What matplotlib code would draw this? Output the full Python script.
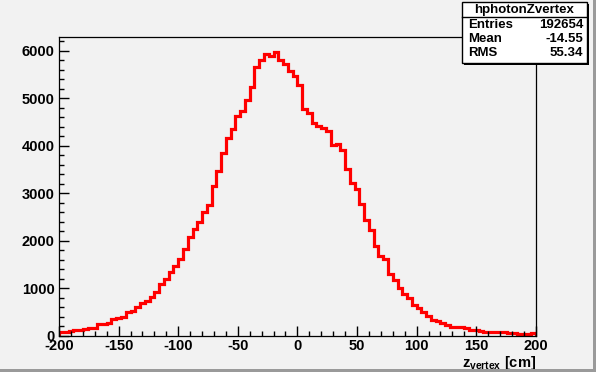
import numpy as np
import matplotlib
matplotlib.use('Agg')
import matplotlib.pyplot as plt
from matplotlib.patches import Rectangle
from matplotlib.lines import Line2D

# histogram contents: 100 bins of 4 cm between -200 and 200
edges = np.linspace(-200, 200, 101)
counts = [65, 85, 95, 110, 112, 137, 160, 168, 235, 240,
          270, 340, 365, 389, 490, 518, 593, 677, 733, 817,
          912, 1080, 1186, 1333, 1455, 1604, 1814, 2070, 2235, 2382,
          2610, 2760, 3147, 3456, 3835, 4165, 4354, 4614, 4733, 4951,
          5245, 5650, 5814, 5926, 5884, 5975, 5800, 5716, 5568, 5463,
          5274, 4762, 4691, 4467, 4411, 4362, 4312, 4011, 4039, 3910,
          3500, 3204, 3090, 2770, 2432, 2221, 1878, 1685, 1607, 1288,
          1168, 1000, 874, 790, 642, 572, 488, 414, 320, 298,
          260, 220, 183, 172, 172, 151, 115, 109, 90, 81,
          74, 74, 72, 70, 60, 60, 35, 35, 35, 60]

hist_name = 'hphotonZvertex'
stat_labels = ['Entries', 'Mean', 'RMS']
stat_values = ['192654', '-14.55', '55.34']

plt.rcParams['font.family'] = 'Liberation Sans'
plt.rcParams['font.weight'] = 'bold'
plt.rcParams['axes.unicode_minus'] = False
plt.rcParams['mathtext.fontset'] = 'custom'
plt.rcParams['mathtext.rm'] = 'Liberation Sans:bold'
plt.rcParams['mathtext.it'] = 'Liberation Sans:bold'
plt.rcParams['mathtext.bf'] = 'Liberation Sans:bold'

bg = '#f2f2f2'
fig = plt.figure(figsize=(5.96, 3.72), dpi=100, facecolor=bg)
ax = fig.add_axes([0.099, 0.098, 0.800, 0.802], facecolor=bg)

ax.stairs(counts, edges, color='#ff0000', linewidth=2.3)

ax.set_xlim(-200, 200)
ax.set_ylim(0, 6284)
ax.set_xticks(np.arange(-200, 201, 50))
ax.set_xticks(np.arange(-200, 201, 10), minor=True)
ax.set_yticks(np.arange(0, 6001, 1000))
ax.set_yticks(np.arange(0, 6201, 200), minor=True)
ax.tick_params(which='both', direction='in', top=False, right=False,
               labelsize=10.5, width=1, color='black')
ax.tick_params(which='major', length=7)
ax.tick_params(which='minor', length=3.5)
ax.tick_params(axis='x', pad=2.5)
ax.tick_params(axis='y', pad=3)
for lab in ax.get_xticklabels() + ax.get_yticklabels():
    lab.set_fontweight('bold')
for s in ax.spines.values():
    s.set_linewidth(0.9)

fig.text(536 / 596, 1 - 362.5 / 372, r'$\mathrm{z}_{\mathrm{vertex}}$ [cm]',
         ha='right', va='center', fontsize=10.5, fontweight='bold')

# stats box
bx0, bx1 = 462 / 596, 587 / 596
by0, by1 = 1 - 62.5 / 372, 1 - 1.5 / 372
fig.patches.append(Rectangle((bx0 + 2 / 596, by0 - 2 / 372), bx1 - bx0, by1 - by0,
                             transform=fig.transFigure, facecolor='black',
                             edgecolor='none', zorder=5))
fig.patches.append(Rectangle((bx0, by0), bx1 - bx0, by1 - by0,
                             transform=fig.transFigure, facecolor='white',
                             edgecolor='black', linewidth=1, zorder=6))
fig.lines.append(Line2D([bx0, bx1], [1 - 16.7 / 372] * 2, transform=fig.transFigure,
                        color='black', linewidth=1, zorder=7))
fig.text((bx0 + bx1) / 2, 1 - 9.5 / 372, hist_name, ha='center', va='center',
         fontsize=9.5, fontweight='bold', zorder=8)
for i, (lab, val) in enumerate(zip(stat_labels, stat_values)):
    yy = 1 - (25 + 13.8 * i) / 372
    fig.text(468 / 596, yy, lab, ha='left', va='center', fontsize=9.5,
             fontweight='bold', zorder=8)
    fig.text(583 / 596, yy, val, ha='right', va='center', fontsize=9.5,
             fontweight='bold', zorder=8)

# canvas bevel
fig.patches.append(Rectangle((1 - 3 / 596, 0), 3 / 596, 1, transform=fig.transFigure,
                             facecolor='#9a9a9a', edgecolor='none', zorder=9))
fig.patches.append(Rectangle((0, 0), 1, 3 / 372, transform=fig.transFigure,
                             facecolor='#9a9a9a', edgecolor='none', zorder=9))

fig.savefig('out.png', dpi=100, facecolor=bg)
